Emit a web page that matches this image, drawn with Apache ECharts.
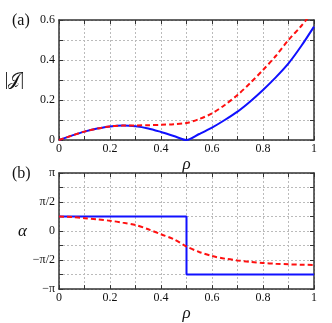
<!DOCTYPE html>
<html><head><meta charset="utf-8">
<script src="https://cdn.jsdelivr.net/npm/echarts@6/dist/echarts.min.js"></script>
<style>html,body{margin:0;padding:0;background:#fff}#c{width:332px;height:323px}</style>
</head><body><div id="c"></div>
<script>
// ---- data ----
var rho = [0,0.05,0.1,0.15,0.2,0.25,0.3,0.35,0.4,0.45,0.5,0.55,0.6,0.65,0.7,0.75,0.8,0.85,0.9,0.95,1.0];
var jBlue = [0,0.022,0.042,0.057,0.068,0.072,0.069,0.058,0.04,0.02,0,0.03,0.062,0.1,0.142,0.193,0.25,0.313,0.383,0.47,0.567];
var jRed  = [0,0.022,0.042,0.057,0.068,0.072,0.073,0.074,0.076,0.079,0.085,0.105,0.133,0.175,0.225,0.285,0.35,0.42,0.5,0.57,0.65];
// alpha in units of pi
var aBlueRho = [0,0.5,0.5,1];
var aBlue = [0.25,0.25,-0.75,-0.75];
var aRed = [0.25,0.24,0.222,0.2,0.178,0.145,0.105,0.03,-0.056,-0.14,-0.267,-0.36,-0.43,-0.475,-0.506,-0.53,-0.55,-0.563,-0.573,-0.58,-0.585];
var xTickLabels = {0:'0',2:'0.2',4:'0.4',6:'0.6',8:'0.8',10:'1'};
var jTickLabels = {0:'0',2:'0.2',4:'0.4',6:'0.6'};
var aTickLabels = {'-4':'\u2212\u03c0','-2':'\u2212\u03c0/2','0':'0','2':'\u03c0/2','4':'\u03c0'};

var PI = Math.PI;
function pairs(xs, ys, k){ return xs.map(function(x,i){return [x, ys[i]*(k||1)];}); }

var serif = 'Liberation Serif';
var axLine = {show:true, onZero:false, lineStyle:{color:'#333', width:1.5}};
var tick = {show:true, inside:true, length:4, lineStyle:{color:'#333'}};
var split = {show:true, lineStyle:{color:'#bbb', type:[2,2], width:1}};
var lblStyle = {color:'#111', fontFamily:serif, fontSize:12};

function xMain(gi, showName){
  return {type:'value', gridIndex:gi, min:0, max:1, interval:0.1, position:'bottom',
    axisLine:axLine, axisTick:tick, splitLine:split,
    axisLabel:Object.assign({margin:3, formatter:function(v){var k=Math.round(v*10);return xTickLabels[k]||'';}}, lblStyle),
    name:'\u03c1', nameLocation:'middle', nameGap:11,
    nameTextStyle:{fontFamily:serif, fontStyle:'italic', fontSize:17, color:'#111'}};
}
function xTop(gi){
  return {type:'value', gridIndex:gi, min:0, max:1, interval:0.1, position:'top',
    axisLine:axLine, axisTick:tick, splitLine:{show:false}, axisLabel:{show:false}};
}
var option = {
  animation:false,
  grid:[{left:59, top:20, width:255, height:120},{left:59, top:173, width:255, height:120}],
  xAxis:[xMain(0), xMain(1), xTop(0), xTop(1)],
  yAxis:[
    {type:'value', gridIndex:0, min:0, max:0.6, interval:0.1, position:'left',
     axisLine:axLine, axisTick:tick, splitLine:split,
     axisLabel:Object.assign({margin:4, formatter:function(v){var k=Math.round(v*10);return jTickLabels[k]||'';}}, lblStyle),
     name:'|\ud835\udca5|', nameLocation:'middle', nameRotate:0, nameGap:35,
     nameTextStyle:{fontFamily:serif, fontSize:18, color:'#111'}},
    {type:'value', gridIndex:1, min:-PI, max:PI, interval:PI/4, position:'left',
     axisLine:axLine, axisTick:tick, splitLine:split,
     axisLabel:Object.assign({margin:4, formatter:function(v){var k=Math.round(v/(PI/4));return aTickLabels[String(k)]||'';}}, lblStyle),
     name:'\u03b1', nameLocation:'middle', nameRotate:0, nameGap:30,
     nameTextStyle:{fontFamily:serif, fontStyle:'italic', fontSize:17, color:'#111'}},
    {type:'value', gridIndex:0, min:0, max:0.6, interval:0.1, position:'right',
     axisLine:axLine, axisTick:tick, splitLine:{show:false}, axisLabel:{show:false}},
    {type:'value', gridIndex:1, min:-PI, max:PI, interval:PI/4, position:'right',
     axisLine:axLine, axisTick:tick, splitLine:{show:false}, axisLabel:{show:false}}
  ],
  series:[
    {type:'line', xAxisIndex:0, yAxisIndex:0, data:pairs(rho,jBlue), showSymbol:false, smooth:0.3, clip:true,
     lineStyle:{color:'#1010ff', width:2}},
    {type:'line', xAxisIndex:0, yAxisIndex:0, data:pairs(rho,jRed), showSymbol:false, smooth:0.3, clip:true,
     lineStyle:{color:'#ff1010', width:2, type:[5,3]}},
    {type:'line', xAxisIndex:1, yAxisIndex:1, data:pairs(aBlueRho,aBlue,PI), showSymbol:false, clip:true,
     lineStyle:{color:'#1010ff', width:2}},
    {type:'line', xAxisIndex:1, yAxisIndex:1, data:pairs(rho,aRed,PI), showSymbol:false, smooth:0.3, clip:true,
     lineStyle:{color:'#ff1010', width:2, type:[5,3]}}
  ],
  graphic:[
    {type:'text', left:12, top:13, style:{text:'(a)', fontFamily:serif, fontSize:16, fill:'#111'}},
    {type:'text', left:12, top:166, style:{text:'(b)', fontFamily:serif, fontSize:16, fill:'#111'}}
  ]
};
var chart = echarts.init(document.getElementById('c'), null, {renderer:'canvas'});
chart.setOption(option);
</script></body></html>
